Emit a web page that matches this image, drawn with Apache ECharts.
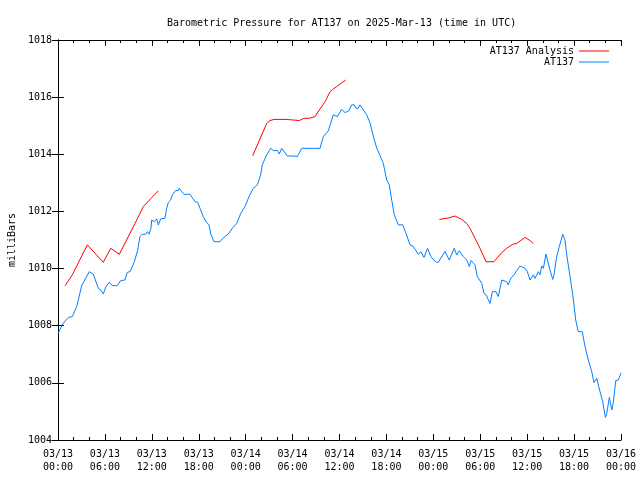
<!DOCTYPE html>
<html>
<head>
<meta charset="utf-8">
<script src="https://cdn.jsdelivr.net/npm/echarts@6/dist/echarts.min.js"></script>
<style>html,body{margin:0;padding:0;background:#fff}#c{width:640px;height:480px}</style>
</head>
<body>
<div id="c"></div>
<script>
const titleText = 'Barometric Pressure for AT137 on 2025-Mar-13 (time in UTC)';
const yTicks = [1004, 1006, 1008, 1010, 1012, 1014, 1016, 1018];
const xTickHours = [0, 6, 12, 18, 24, 30, 36, 42, 48, 54, 60, 66, 72];
const xTickLabels = ['03/13\n00:00','03/13\n06:00','03/13\n12:00','03/13\n18:00','03/14\n00:00','03/14\n06:00','03/14\n12:00','03/14\n18:00','03/15\n00:00','03/15\n06:00','03/15\n12:00','03/15\n18:00','03/16\n00:00'];

// hours since 2025-03-13 00:00 UTC
const blueHours = [0,0.60,1.32,1.83,2.39,3.03,3.24,4.00,4.51,5.15,
5.46,5.79,6.14,6.52,7.00,7.58,8.02,8.57,8.86,9.21,
9.72,10.17,10.49,10.78,11.22,11.42,11.64,11.89,11.98,12.32,
12.62,12.83,13.13,13.68,13.90,14.11,14.41,14.62,15.05,15.39,
15.51,15.82,16.11,16.88,17.18,17.52,17.87,18.16,18.58,18.93,
19.31,19.57,19.95,20.72,21.01,21.78,22.29,22.85,23.37,23.92,
24.43,24.98,25.49,25.92,26.13,26.69,27.20,27.54,28.05,28.30,
28.61,29.33,30.18,30.40,30.60,31.17,33.51,33.93,34.57,35.21,
35.43,35.72,36.28,36.71,37.22,37.56,37.89,38.11,38.41,38.62,
39.05,39.48,39.90,40.32,40.76,41.18,41.60,42.04,42.37,42.68,
43.01,43.52,44.08,44.51,45.02,45.44,46.08,46.42,46.81,47.26,
47.70,48.34,48.64,49.49,50.04,50.67,50.99,51.32,51.83,52.27,
52.60,52.82,53.33,53.63,54.19,54.48,54.74,55.25,55.54,56.02,
56.31,56.75,57.38,57.59,57.90,58.32,58.66,59.09,59.73,60.02,
60.37,60.79,61.00,61.43,61.64,61.86,62.07,62.41,62.58,62.92,
63.27,63.43,63.78,64.11,64.55,64.84,65.06,65.39,65.83,66.21,
66.54,67.05,67.40,67.82,68.26,68.55,68.90,69.32,69.66,70.00,
70.18,70.51,70.82,71.02,71.33,71.66,72.00];
const bluePressure = [1007.72,1008.06,1008.29,1008.32,1008.67,1009.40,1009.46,1009.89,1009.81,1009.31,
1009.25,1009.11,1009.37,1009.52,1009.40,1009.40,1009.58,1009.60,1009.87,1009.89,
1010.21,1010.62,1011.12,1011.20,1011.20,1011.29,1011.20,1011.41,1011.70,1011.64,
1011.74,1011.53,1011.74,1011.76,1012.11,1012.32,1012.40,1012.58,1012.73,1012.73,
1012.81,1012.69,1012.60,1012.60,1012.48,1012.34,1012.32,1012.11,1011.82,1011.64,
1011.53,1011.18,1010.94,1010.94,1011.04,1011.21,1011.41,1011.58,1011.93,1012.17,
1012.52,1012.81,1012.93,1013.28,1013.63,1013.98,1014.21,1014.13,1014.13,1014.01,
1014.21,1013.94,1013.94,1014.00,1013.92,1014.21,1014.21,1014.62,1014.82,1015.38,
1015.43,1015.32,1015.57,1015.46,1015.53,1015.73,1015.73,1015.61,1015.61,1015.73,
1015.55,1015.38,1015.10,1014.64,1014.21,1013.96,1013.68,1013.10,1012.93,1012.40,
1011.88,1011.53,1011.53,1011.23,1010.83,1010.77,1010.50,1010.59,1010.39,1010.71,
1010.41,1010.22,1010.22,1010.60,1010.30,1010.71,1010.48,1010.62,1010.42,1010.30,
1010.07,1010.28,1010.13,1009.72,1009.48,1009.13,1009.08,1008.78,1009.19,1009.19,
1009.02,1009.60,1009.54,1009.43,1009.66,1009.78,1009.93,1010.09,1010.01,1009.89,
1009.60,1009.78,1009.66,1009.89,1009.78,1010.09,1010.01,1010.51,1010.48,1009.95,
1009.62,1009.78,1010.42,1010.77,1011.20,1011.00,1010.48,1009.89,1009.08,1008.20,
1007.79,1007.79,1007.27,1006.80,1006.39,1006.01,1006.16,1005.69,1005.34,1004.79,
1004.93,1005.49,1005.05,1005.31,1006.08,1006.10,1006.35];

const redHours1 = [0.90,1.83,3.75,5.79,6.74,7.84,9.85,10.91,11.98,12.83];
const redPressure1 = [1009.40,1009.78,1010.83,1010.22,1010.71,1010.50,1011.58,1012.17,1012.48,1012.72];
const redHours2 = [24.90,26.69,27.11,27.62,29.25,29.33,30.86,31.46,32.14,32.87,33.42,34.15,34.79,35.13,35.64,36.79];
const redPressure2 = [1013.95,1015.08,1015.18,1015.22,1015.22,1015.18,1015.18,1015.26,1015.26,1015.32,1015.55,1015.84,1016.19,1016.27,1016.37,1016.60];
const redHours3 = [48.77,49.92,50.77,51.63,52.27,52.69,53.33,53.97,54.74,55.76,56.75,57.38,58.15,58.66,59.73,60.37,60.79];
const redPressure3 = [1011.72,1011.77,1011.84,1011.72,1011.58,1011.41,1011.06,1010.71,1010.24,1010.24,1010.56,1010.71,1010.85,1010.88,1011.09,1010.98,1010.88];

const FONT = '"DejaVu Sans Mono", "Liberation Mono", monospace';
const zip = (a, b) => a.map((h, i) => [h, b[i]]);
const blueData = zip(blueHours, bluePressure);
const redSeriesData = [].concat(zip(redHours1, redPressure1), ['-'], zip(redHours2, redPressure2), ['-'], zip(redHours3, redPressure3));

const xLabelMap = {};
xTickHours.forEach((h, i) => xLabelMap[h] = xTickLabels[i]);

const baseX = {
  type: 'value', min: 0, max: 72, interval: 6,
  axisLine: { show: true, lineStyle: { color: '#000', width: 1 } },
  axisTick: { show: true, inside: true, length: 6, lineStyle: { color: '#000' } },
  minorTick: { show: true, splitNumber: 3, length: 3, lineStyle: { color: '#000' } },
  splitLine: { show: false },
  minorSplitLine: { show: false }
};
const baseY = {
  type: 'value', min: 1004, max: 1018, interval: 2,
  axisLine: { show: true, lineStyle: { color: '#000', width: 1 } },
  axisTick: { show: true, inside: true, length: 6, lineStyle: { color: '#000' } },
  splitLine: { show: false }
};

const chart = echarts.init(document.getElementById('c'), null, { renderer: 'canvas' });
chart.setOption({
  animation: false,
  backgroundColor: '#fff',
  title: {
    text: titleText, left: 162, top: 13,
    textStyle: { fontFamily: FONT, fontSize: 10, fontWeight: 'normal', color: '#000' }
  },
  legend: [
    { data: ['AT137 Analysis'], right: 26, top: 41, align: 'right', icon: 'rect', itemWidth: 30, itemHeight: 1,
      textStyle: { fontFamily: FONT, fontSize: 10, color: '#000' } },
    { data: ['AT137'], right: 26, top: 52, align: 'right', icon: 'rect', itemWidth: 30, itemHeight: 1,
      textStyle: { fontFamily: FONT, fontSize: 10, color: '#000' } }
  ],
  grid: { left: 58, right: 19, top: 40, bottom: 40, containLabel: false, outerBoundsMode: 'none' },
  xAxis: [
    Object.assign({}, baseX, {
      position: 'bottom',
      axisLabel: { show: true, margin: 8, fontFamily: FONT, fontSize: 10, color: '#000', lineHeight: 13,
        formatter: v => xLabelMap[v] || '' }
    }),
    Object.assign({}, baseX, { position: 'top', axisLabel: { show: false } })
  ],
  yAxis: [
    Object.assign({}, baseY, {
      position: 'left',
      name: 'milliBars', nameLocation: 'middle', nameRotate: 90, nameGap: 41,
      nameTextStyle: { fontFamily: FONT, fontSize: 10, color: '#000' },
      axisLabel: { show: true, margin: 6, fontFamily: FONT, fontSize: 10, color: '#000',
        formatter: v => yTicks.indexOf(v) >= 0 ? String(v) : '' }
    }),
    Object.assign({}, baseY, { position: 'right', axisLabel: { show: false } })
  ],
  series: [
    { name: 'AT137 Analysis', type: 'line', data: redSeriesData, showSymbol: false, symbol: 'none',
      connectNulls: false, color: '#ff0000', lineStyle: { width: 1, color: '#ff0000' } },
    { name: 'AT137', type: 'line', data: blueData, showSymbol: false, symbol: 'none',
      color: '#0080ff', lineStyle: { width: 1, color: '#0080ff' } }
  ]
});
</script>
</body>
</html>
